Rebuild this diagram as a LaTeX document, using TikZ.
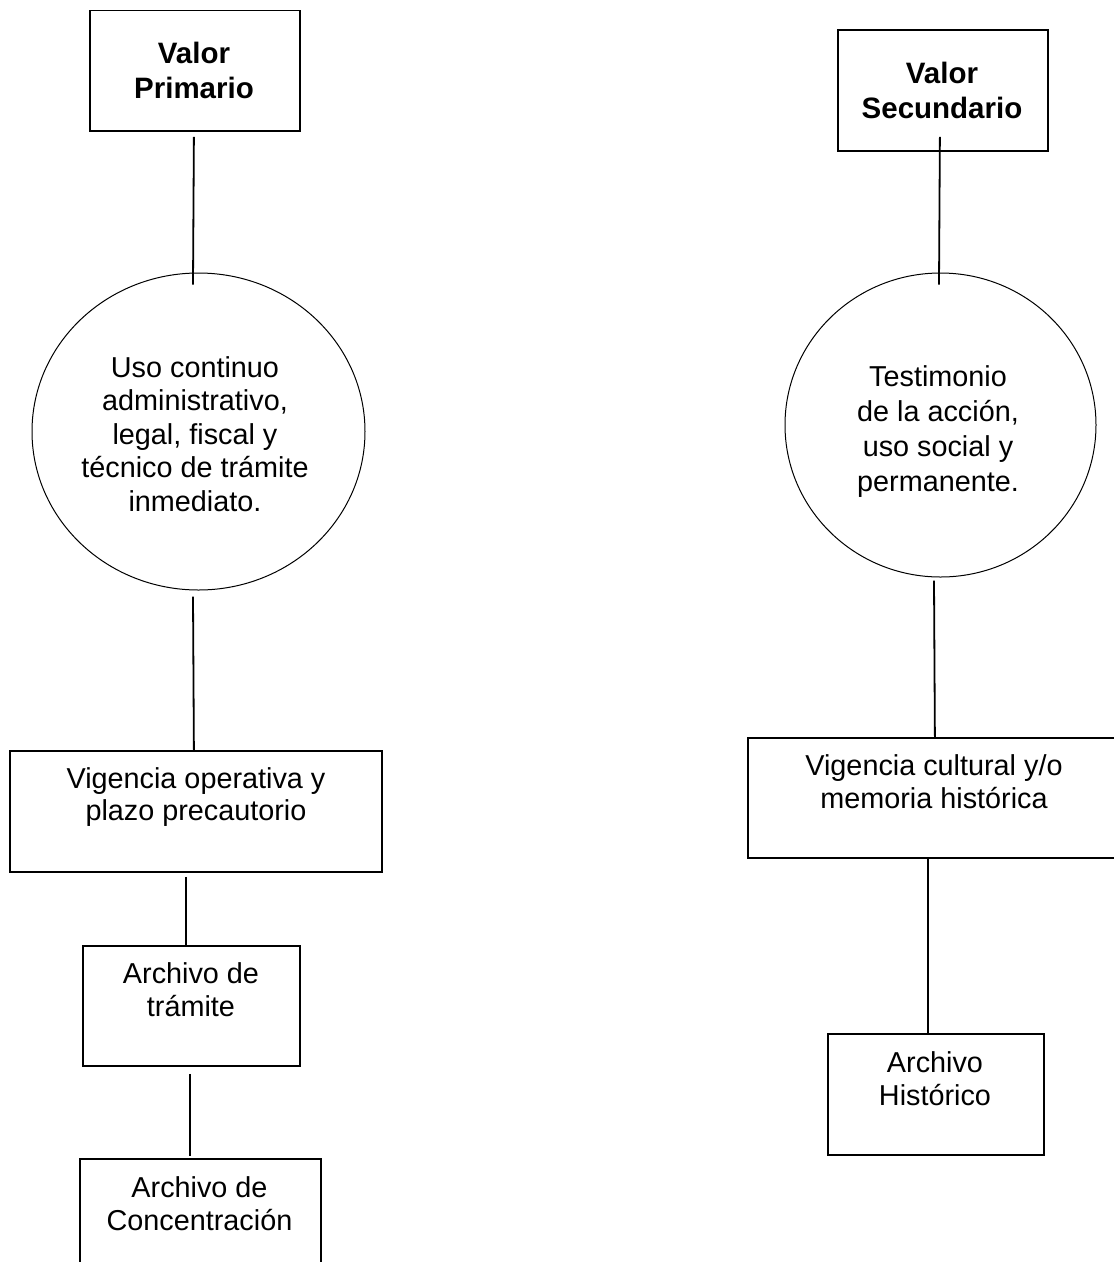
\documentclass[tikz,border=0pt]{standalone}
\usepackage{fontspec}
\setmainfont{Liberation Sans}
\usetikzlibrary{shapes.geometric,calc}
\begin{document}
\begin{tikzpicture}[x=1pt,y=-1pt,
  boxnode/.style={draw=black,line width=1.8pt,rectangle,inner sep=0pt,anchor=north west},
  oval/.style={draw=black,line width=1pt,ellipse,inner sep=0pt},
  conn/.style={draw=black,line width=1.8pt},
  txt/.style={anchor=north,inner sep=0pt,align=center,font=\fontsize{28.8}{33.5}\selectfont},
  btxt/.style={anchor=north,inner sep=0pt,align=center,font=\fontsize{29.5}{35}\selectfont\bfseries}]
\fill[white] (0,0) rectangle (1114,1262);
\clip (0,0) rectangle (1114,1262);
% left column
\node[boxnode,minimum width=210pt,minimum height=120.5pt] (vp) at (89,9.5) {};
\node[oval,minimum width=333pt,minimum height=317pt] (c1) at (198.5,431.5) {};
\node[boxnode,minimum width=372pt,minimum height=121pt] (vo) at (9,750) {};
\node[boxnode,minimum width=217pt,minimum height=120pt] (at) at (82,945) {};
\node[boxnode,minimum width=241pt,minimum height=121pt] (ac) at (79,1158) {};
% right column
\node[boxnode,minimum width=210pt,minimum height=121pt] (vs) at (837,29) {};
\node[oval,minimum width=311pt,minimum height=304pt] (c2) at (940.5,425) {};
\node[boxnode,minimum width=374pt,minimum height=120pt] (vc) at (747,737) {};
\node[boxnode,minimum width=216pt,minimum height=121pt] (ah) at (827,1033) {};
% texts
\node[btxt] (vpt) at (194,42) {Valor\\Primario};
\node[btxt] (vst) at (942,62) {Valor\\Secundario};
\node[txt] (c1t) at (195,356) {Uso continuo\\administrativo,\\legal, fiscal y\\técnico de trámite\\inmediato.};
\node[txt,font=\fontsize{28.8}{35}\selectfont] (c2t) at (938,365) {Testimonio\\de la acción,\\uso social y\\permanente.};
\node[txt,font=\fontsize{28.8}{32.5}\selectfont] (vot) at (196,767) {Vigencia operativa y\\plazo precautorio};
\node[txt] (att) at (191,962) {Archivo de\\trámite};
\node[txt] (act) at (199.5,1176) {Archivo de\\Concentración};
\node[txt] (vct) at (934,754) {Vigencia cultural y/o\\memoria histórica};
\node[txt] (aht) at (935,1051) {Archivo\\Histórico};
% connectors
\draw[conn] ($(vp.south)+(-1,5)$) -- ($(c1.north)+(-5.5,12)$);
\draw[conn] ($(c1.south)+(-5.5,6)$) -- ($(vo.north)+(-2,0)$);
\draw[conn] ($(vo.south)+(-10,4)$) -- ($(at.north)+(-5.5,0)$);
\draw[conn] ($(at.south)+(-1.5,7)$) -- ($(ac.north)+(-10.5,-2)$);
\draw[conn] ($(vs.south)+(-3,-15)$) -- ($(c2.north)+(-1.5,12)$);
\draw[conn] ($(c2.south)+(-6.5,3)$) -- (vc.north);
\draw[conn] ($(vc.south)+(-7,-1)$) -- ($(ah.north)+(-8,0)$);
\end{tikzpicture}
\end{document}
